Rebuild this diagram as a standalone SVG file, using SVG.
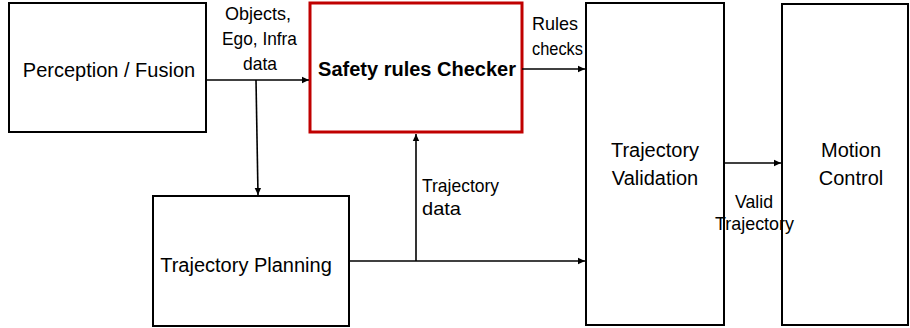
<svg xmlns="http://www.w3.org/2000/svg" width="910" height="328" viewBox="0 0 910 328">
<style>
.box{fill:#fff;stroke:#000;stroke-width:2}
.red{fill:#fff;stroke:#c00000;stroke-width:3}
.t{font-family:"Liberation Sans",Arial,sans-serif;font-size:20px;fill:#000}
.b{font-weight:bold}
.l{font-family:"Liberation Sans",Arial,sans-serif;font-size:19px;fill:#000}
.c{fill:none;stroke:#000;stroke-width:1.6}
</style>
<defs>
<marker id="ah" markerWidth="8" markerHeight="8" refX="7" refY="4" orient="auto" markerUnits="userSpaceOnUse">
<path d="M0,0.8 L7,4 L0,7.2 Z" fill="#000"/>
</marker>
</defs>
<rect width="910" height="328" fill="#fff"/>
<g id="perception">
<rect class="box" x="9" y="3" width="197" height="129"/>
<text class="t" x="109" y="77" text-anchor="middle">Perception / Fusion</text>
</g>
<g id="safety">
<rect class="red" x="310" y="3" width="212" height="129"/>
<text class="t b" x="417" y="76" text-anchor="middle">Safety rules Checker</text>
</g>
<g id="planning">
<rect class="box" x="153" y="196" width="196" height="130"/>
<text class="t" x="246" y="272" text-anchor="middle">Trajectory Planning</text>
</g>
<g id="validation">
<rect class="box" x="586" y="3" width="138" height="322"/>
<text class="t" text-anchor="middle"><tspan x="655" y="157">Trajectory</tspan><tspan x="655" y="185">Validation</tspan></text>
</g>
<g id="motion">
<rect class="box" x="782" y="4" width="126" height="321"/>
<text class="t" text-anchor="middle"><tspan x="851" y="157">Motion</tspan><tspan x="851" y="185">Control</tspan></text>
</g>
<g id="connectors">
<line class="c" x1="206" y1="80" x2="309" y2="80" marker-end="url(#ah)"/>
<line class="c" x1="256" y1="80" x2="258" y2="195" marker-end="url(#ah)"/>
<line class="c" x1="522" y1="69" x2="585" y2="69" marker-end="url(#ah)"/>
<line class="c" x1="724" y1="163" x2="781" y2="163" marker-end="url(#ah)"/>
<line class="c" x1="349" y1="261" x2="585" y2="261" marker-end="url(#ah)"/>
<line class="c" x1="416" y1="261" x2="416" y2="134" marker-end="url(#ah)"/>
<text class="l" x="225" y="20" textLength="66" lengthAdjust="spacingAndGlyphs">Objects,</text>
<text class="l" x="222" y="45" textLength="75" lengthAdjust="spacingAndGlyphs">Ego, Infra</text>
<text class="l" x="243" y="70" textLength="34" lengthAdjust="spacingAndGlyphs">data</text>
<text class="l" x="532" y="30" textLength="46" lengthAdjust="spacingAndGlyphs">Rules</text>
<text class="l" x="532" y="55" textLength="51" lengthAdjust="spacingAndGlyphs">checks</text>
<text class="l" x="422" y="192" textLength="77" lengthAdjust="spacingAndGlyphs">Trajectory</text>
<text class="l" x="422" y="215" textLength="39" lengthAdjust="spacingAndGlyphs">data</text>
<text class="l" x="735" y="208" textLength="38" lengthAdjust="spacingAndGlyphs">Valid</text>
<text class="l" x="715" y="230" textLength="79" lengthAdjust="spacingAndGlyphs">Trajectory</text>
</g>
</svg>
